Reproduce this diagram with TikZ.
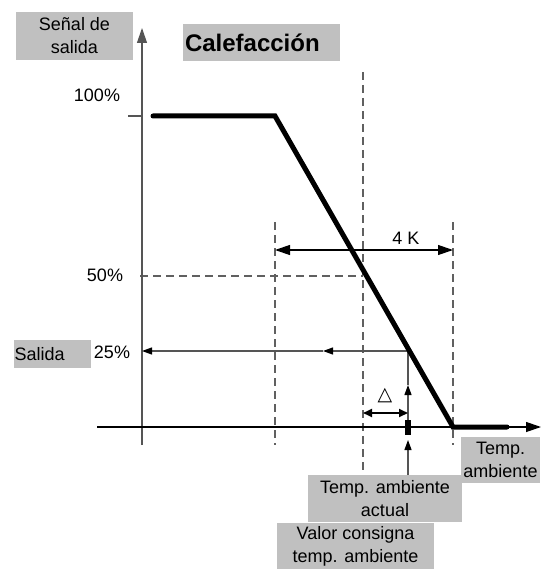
\documentclass[tikz,border=0pt]{standalone}
\usepackage{fontspec}
\setmainfont{Liberation Sans}
\newfontfamily\symfont{DejaVu Sans}
\usetikzlibrary{arrows.meta}
\definecolor{boxgray}{HTML}{C0C0C0}
\definecolor{dashgray}{HTML}{606060}
\definecolor{linegray}{HTML}{555555}
\begin{document}
\begin{tikzpicture}[x=1pt,y=-1pt,
  font=\fontsize{18}{23}\selectfont,
  box/.style={fill=boxgray, inner sep=0pt, align=center},
  lbl/.style={inner sep=0pt},
  dashln/.style={dashgray, line width=1.3pt, dash pattern=on 8pt off 5pt},
  axisln/.style={line width=1.2pt},
  bigtip/.style={-{Triangle[length=15pt,width=10pt]}},
  smalltip/.style={-{Triangle[length=10pt,width=7pt,fill=black,color=black]}},
  grayln/.style={linegray, line width=1.2pt},
  curve/.style={line width=5pt, line cap=round, line join=miter}]
\useasboundingbox (0,0) rectangle (547,569);
% coordinates
\coordinate (yb) at (142,445); \coordinate (yt) at (142,28);
\coordinate (xl) at (97,427);  \coordinate (xr) at (541,427);
\coordinate (c0) at (153,116); \coordinate (c1) at (275,116);
\coordinate (c2) at (453,427); \coordinate (c3) at (507,427);
\coordinate (t100) at (128,116); \coordinate (t100b) at (142,116);
\coordinate (d1t) at (275,222); \coordinate (d1b) at (275,445);
\coordinate (d2t) at (363,72);  \coordinate (d2b) at (363,523);
\coordinate (d3t) at (453,222); \coordinate (d3b) at (453,445);
\coordinate (k1) at (275,250);  \coordinate (k2) at (453,250);
\coordinate (h50a) at (140,276); \coordinate (h50b) at (363,276);
\coordinate (p25) at (409.5,351); \coordinate (m25) at (323,351); \coordinate (a25) at (142,351);
\coordinate (v1) at (408,351); \coordinate (va) at (408,385); \coordinate (vb) at (408,420);
\coordinate (vc) at (408,440); \coordinate (vd) at (408,475);
\coordinate (bl1) at (405,420); \coordinate (bl2) at (411,435);
\coordinate (dl1) at (363,413); \coordinate (dl2) at (408,413);
% dashed guides
\draw[dashln] (d1t) -- (d1b);
\draw[dashln] (d2t) -- (d2b);
\draw[dashln] (d3t) -- (d3b);
\draw[dashln] (h50a) -- (h50b);
% axes
\draw[axisln, linegray] (t100) -- (t100b);
\draw[axisln, linegray, bigtip] (yb) -- (yt);
\draw[axisln, bigtip] (xl) -- (xr);
% 4 K
\draw[line width=1.2pt, {Triangle[length=15pt,width=10pt]}-{Triangle[length=15pt,width=10pt]}] (k1) -- (k2);
\node[lbl] (k4) at (406,238) {4 K};
% 25% lines
\draw[grayln, smalltip] (p25) -- (m25);
\draw[grayln, smalltip] (m25) -- (a25);
\draw[grayln] (v1) -- (va);
\draw[grayln, smalltip] (vb) -- (va);
\draw[grayln, smalltip] (vd) -- (vc);
\fill (bl1) rectangle (bl2);
% delta
\draw[line width=2pt, {Triangle[length=9pt,width=8pt]}-{Triangle[length=9pt,width=8pt]}] (dl1) -- (dl2);
\node[lbl, font=\symfont\fontsize{19}{20}\selectfont] (delta) at (385,396) {△};
% characteristic curve
\draw[curve] (c0) -- (c1) -- (c2) -- (c3);
% labels
\node[box, minimum width=117pt, minimum height=48pt] (senal) at (74.5,36) {Señal de\\salida};
\node[box, minimum width=157pt, minimum height=37pt, text width=153pt, align=left, font=\bfseries\fontsize{24}{26}\selectfont] (cal) at (261.5,42.5) {Calefacción};
\node[lbl] (p100) at (97,95) {100\%};
\node[lbl] (p50) at (105,275) {50\%};
\node[lbl] (p25l) at (112,352) {25\%};
\node[box, minimum width=77pt, minimum height=28pt, text width=76pt, align=left] (sal) at (52.5,354) {Salida};
\node[box, minimum width=79pt, minimum height=46pt] (tamb) at (500.5,460) {Temp.\\ambiente};
\node[box, minimum width=154pt, minimum height=47pt] (tact) at (385,498.5) {Temp. ambiente\\actual};
\node[box, minimum width=157pt, minimum height=46pt] (vcons) at (355.5,546) {Valor consigna\\temp. ambiente};
\end{tikzpicture}
\end{document}
